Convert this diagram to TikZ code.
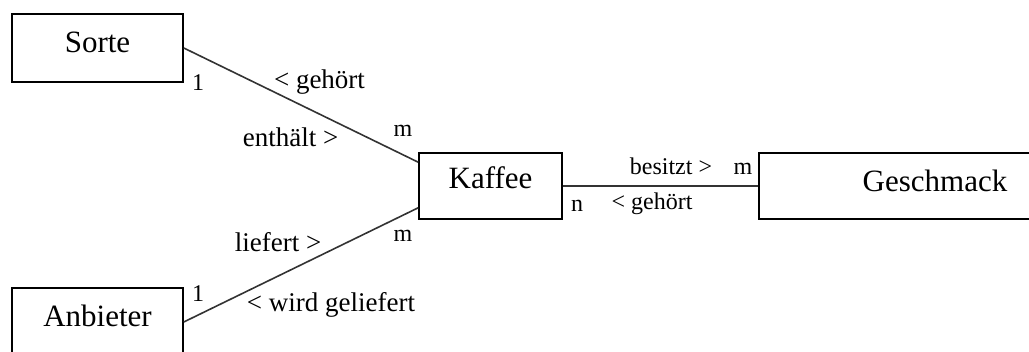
\documentclass[tikz,border=0pt]{standalone}
\usepackage{fontspec}
\setmainfont{Liberation Serif}
\begin{document}
\begin{tikzpicture}[x=1pt,y=-1pt,
  entity/.style={draw=black,line width=1.6pt,fill=white,rectangle,inner sep=0pt,
    font=\fontsize{31}{31}\selectfont},
  lbl/.style={anchor=base,inner sep=0pt,font=\fontsize{27}{27}\selectfont},
  lbls/.style={anchor=base,inner sep=0pt,font=\fontsize{24}{24}\selectfont},
  conn/.style={line width=1.6pt,draw=black!80}]
\useasboundingbox[fill=white] (0,0) rectangle (1029,352);
% entities
\node[entity,minimum width=171pt,minimum height=68pt,text height=22pt,text depth=12pt] (sorte) at (97.5,48) {Sorte};
\node[entity,minimum width=171pt,minimum height=68pt,text height=22pt,text depth=12pt] (anbieter) at (97.5,322) {Anbieter};
\node[entity,minimum width=143pt,minimum height=66pt,text height=22pt,text depth=16pt] (kaffee) at (490.5,186) {Kaffee};
\node[entity,minimum width=352pt,minimum height=66pt,text height=22pt,text depth=10pt] (geschmack) at (935,186) {Geschmack};
% connectors
\coordinate (kaffeeup) at ([yshift=-10pt]kaffee.north west);
\coordinate (kaffeedown) at ([yshift=12pt]kaffee.south west);
\draw[conn] (sorte.east) -- (kaffeeup);
\draw[conn] (anbieter.east) -- (kaffeedown);
\draw[conn] (kaffee.east) -- (geschmack.west);
% labels
\node[lbls] (c1) at (198,91) {1};
\node[lbl] (l1) at (319.5,89) {< gehört};
\node[lbl] (l2) at (290.5,147) {enthält >};
\node[lbls] (c2) at (403,137) {m};
\node[lbl] (l3) at (278,252) {liefert >};
\node[lbls] (c3) at (403,242) {m};
\node[lbls] (c4) at (198,302) {1};
\node[lbl] (l4) at (331,312) {< wird geliefert};
\node[lbls] (l5) at (671,175) {besitzt >};
\node[lbls] (c5) at (743,175) {m};
\node[lbls] (c6) at (577,212) {n};
\node[lbls] (l6) at (652,210) {< gehört};
\end{tikzpicture}
\end{document}
